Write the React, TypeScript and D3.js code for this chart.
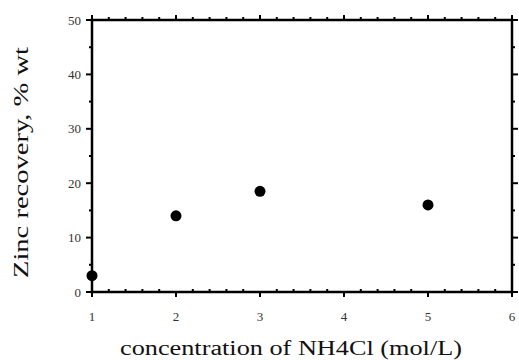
import React from "react";
import * as d3 from "d3";

const concentration = [1, 2, 3, 5];
const zincRecovery = [3, 14, 18.5, 16];
const xTicks = [1, 2, 3, 4, 5, 6];
const yTicks = [0, 10, 20, 30, 40, 50];

export default function App() {
  const W = 519, H = 360;
  const left = 92, right = 512, top = 20, bottom = 292;
  const x = d3.scaleLinear().domain([1, 6]).range([left, right]);
  const y = d3.scaleLinear().domain([0, 50]).range([bottom, top]);
  const xMinor = d3.range(1, 6.001, 0.2).filter((v) => Math.abs(v - Math.round(v)) > 0.01);
  const yMinor = d3.range(5, 50, 10);
  const ff = "'Liberation Serif', 'DejaVu Serif', serif";
  return (
    <svg width={W} height={H} style={{ position: "absolute", left: 0, top: 0 }}>
      <rect width={W} height={H} fill="#fff" />
      <rect x={left} y={top} width={right - left} height={bottom - top} fill="none" stroke="#000" strokeWidth={2.5} />
      {xTicks.map((t) => (
        <g key={"xt" + t}>
          <line x1={x(t)} x2={x(t)} y1={bottom} y2={bottom + 5} stroke="#000" strokeWidth={2} />
          <line x1={x(t)} x2={x(t)} y1={top} y2={top - 5} stroke="#000" strokeWidth={2} />
          <text x={x(t)} y={bottom + 29} textAnchor="middle" fontFamily={ff} fontSize={13} fill="#333">{t}</text>
        </g>
      ))}
      {xMinor.map((t, i) => (
        <g key={"xm" + i}>
          <line x1={x(t)} x2={x(t)} y1={bottom} y2={bottom - 3} stroke="#000" strokeWidth={2} />
          <line x1={x(t)} x2={x(t)} y1={top} y2={top - 3} stroke="#000" strokeWidth={2} />
        </g>
      ))}
      {yTicks.map((t) => (
        <g key={"yt" + t}>
          <line x1={left} x2={left - 6} y1={y(t)} y2={y(t)} stroke="#000" strokeWidth={2} />
          <line x1={right} x2={right + 6} y1={y(t)} y2={y(t)} stroke="#000" strokeWidth={2} />
          <text x={left - 11} y={y(t) + 4.5} textAnchor="end" fontFamily={ff} fontSize={13} fill="#333">{t}</text>
        </g>
      ))}
      {yMinor.map((t) => (
        <g key={"ym" + t}>
          <line x1={left} x2={left - 3} y1={y(t)} y2={y(t)} stroke="#000" strokeWidth={2} />
          <line x1={right} x2={right + 3} y1={y(t)} y2={y(t)} stroke="#000" strokeWidth={2} />
        </g>
      ))}
      {concentration.map((c, i) => (
        <circle key={"p" + i} cx={x(c)} cy={y(zincRecovery[i])} r={5.5} fill="#000" />
      ))}
      <text x={120} y={355} fontFamily={ff} fontSize={20} fill="#111" textLength={342} lengthAdjust="spacingAndGlyphs">
        concentration of NH4Cl (mol/L)
      </text>
      <text transform={`translate(28, 278) rotate(-90)`} fontFamily={ff} fontSize={20} fill="#111" textLength={231} lengthAdjust="spacingAndGlyphs">
        Zinc recovery,  % wt
      </text>
    </svg>
  );
}
